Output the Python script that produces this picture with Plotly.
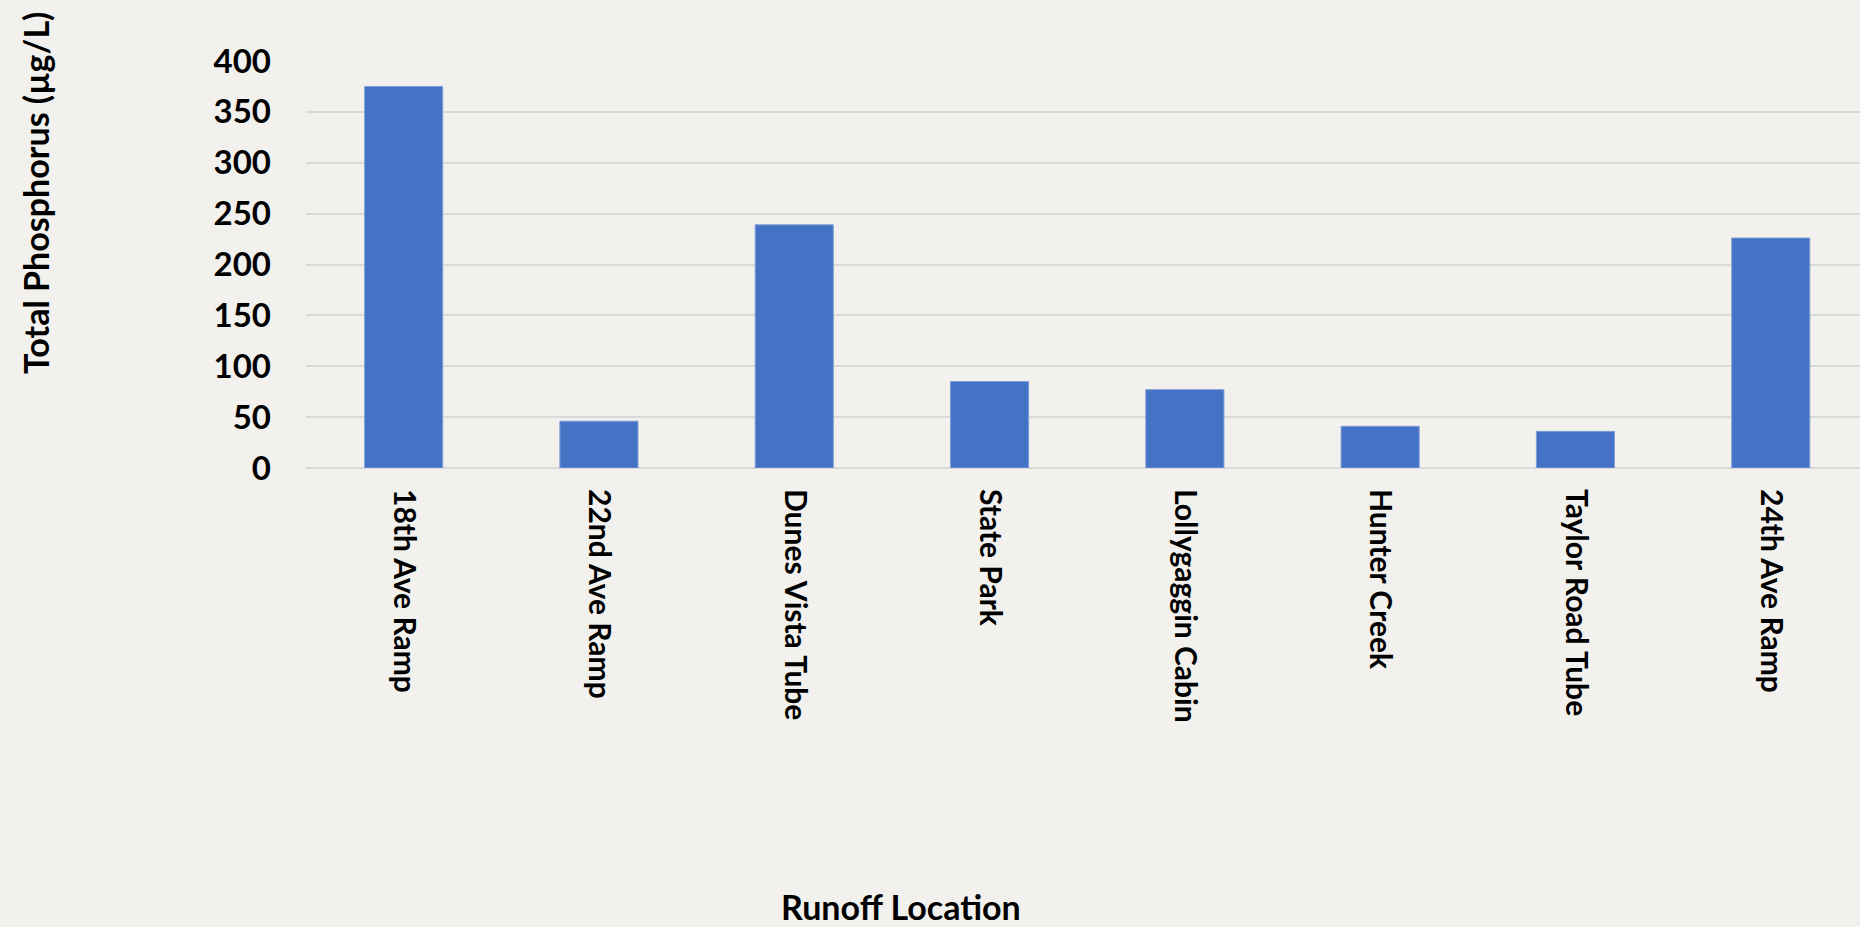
import plotly.graph_objects as go

categories = ["18th Ave Ramp", "22nd Ave Ramp", "Dunes Vista Tube", "State Park",
              "Lollygaggin Cabin", "Hunter Creek", "Taylor Road Tube", "24th Ave Ramp"]
phosphorus = [375, 46, 239, 85, 77, 41, 36, 226]
y_ticks = [0, 50, 100, 150, 200, 250, 300, 350, 400]

BG = "#F2F1ED"
BAR = "#4472C4"
GRID = "#D9D9D9"
FONT = "Lato"

W, H = 1860, 927
L, R, T, B = 306, 0, 61, 927 - 468

fig = go.Figure(go.Bar(
    x=categories, y=phosphorus,
    marker=dict(color=BAR, line=dict(color="#7F9ED8", width=1)),
    width=0.4,
))

plot_w = W - L - R
plot_h = H - T - B

fig.update_layout(
    width=W, height=H, autosize=False,
    margin=dict(l=L, r=R, t=T, b=B, pad=0),
    paper_bgcolor=BG, plot_bgcolor=BG,
    showlegend=False,
    font=dict(family=FONT, color="black"),
    xaxis=dict(
        range=[-0.5, -0.5 + plot_w / 195.3],
        tickangle=90,
        tickfont=dict(family=FONT, size=30, color="black", weight="bold"),
        showgrid=False, showline=False, ticks="", ticklabelstandoff=20,
        fixedrange=True,
    ),
    yaxis=dict(
        range=[0, 400],
        tickvals=y_ticks,
        tickfont=dict(family=FONT, size=33, color="black", weight="bold"),
        showgrid=True, gridcolor=GRID, gridwidth=2,
        zeroline=True, zerolinecolor=GRID, zerolinewidth=2,
        showline=False, ticks="", ticklabelstandoff=34,
        fixedrange=True,
    ),
    annotations=[
        dict(text="<b>Total Phosphorus (µg/L)</b>", textangle=-90,
             xref="paper", yref="paper",
             x=(35 - L) / plot_w, y=(468 - 193) / plot_h,
             xanchor="center", yanchor="middle", showarrow=False,
             font=dict(family=FONT, size=34, color="black")),
        dict(text="<b>Runoff Location</b>",
             xref="paper", yref="paper",
             x=(901 - L) / plot_w, y=(468 - 907) / plot_h,
             xanchor="center", yanchor="middle", showarrow=False,
             font=dict(family=FONT, size=34, color="black")),
    ],
)

fig.write_html("out.html", config={"displayModeBar": False},
               post_script="document.body.style.margin='0';document.body.style.overflow='hidden';")
